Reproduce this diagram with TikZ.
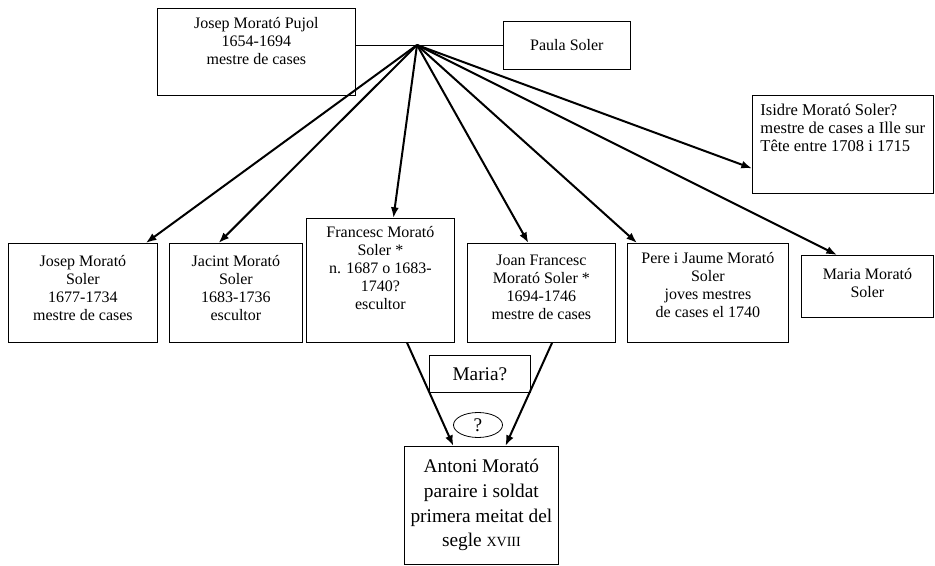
\documentclass[tikz,border=0pt]{standalone}
\usepackage{fontspec}
\setmainfont{Liberation Serif}
\usetikzlibrary{arrows.meta,shapes.geometric}

% box with fixed size and text from the top
\newcommand{\caixa}[4]{\parbox[t][#2][t]{#1}{\centering\vspace*{#3}\strut #4}}

\tikzset{
  persona/.style={draw, line width=0.6pt, anchor=north west, inner sep=0pt, font=\fontsize{12}{13.5}\selectfont},
  gran/.style={font=\fontsize{14.5}{18.6}\selectfont},
  fletxa/.style={-{Latex[length=8pt,width=6pt]}, line width=1.5pt},
  casament/.style={line width=0.6pt}
}

\begin{document}
\begin{tikzpicture}[x=0.75pt,y=-0.75pt]
  \useasboundingbox (0,0) rectangle (935,566);

  % pares
  \node[persona] (jmp) at (157,8) {\caixa{148.5pt}{65.25pt}{5.5pt}{Josep Morató Pujol\\1654-1694\\mestre de cases}};
  \node[persona] (pau) at (503,21) {\caixa{95.25pt}{36pt}{12.3pt}{Paula Soler}};
  \draw[casament] (jmp.east |- pau.west) -- (pau.west);
  \coordinate (jn) at (417,45);

  % fills
  \node[persona, font=\fontsize{12.4}{13.5}\selectfont] (isi) at (752,95) {\parbox[t][73.5pt][t]{135.75pt}{\raggedright\leftskip=6pt\vspace*{5.5pt}\strut Isidre Morató Soler?\\mestre de cases a Ille sur\\Tête entre 1708 i 1715}};
  \node[persona] (jsol) at (8,243) {\caixa{111.75pt}{74.25pt}{7.8pt}{Josep Morató\\Soler\\1677-1734\\mestre de cases}};
  \node[persona] (jac) at (169,243) {\caixa{99.75pt}{74.25pt}{7.8pt}{Jacint Morató\\Soler\\1683-1736\\escultor}};
  \node[persona] (fms) at (306,218) {\caixa{111pt}{93pt}{4.8pt}{Francesc Morató\\Soler *\\n. 1687 o 1683-\\1740?\\escultor}};
  \node[persona] (jfms) at (467,243) {\caixa{111pt}{74.25pt}{7pt}{Joan Francesc\\Morató Soler *\\1694-1746\\mestre de cases}};
  \node[persona] (pere) at (627,243) {\caixa{120.75pt}{74.25pt}{5.5pt}{Pere i Jaume Morató\\Soler\\joves mestres\\de cases el 1740}};
  \node[persona] (mms) at (801,255) {\caixa{99pt}{46.5pt}{8.5pt}{Maria Morató\\Soler}};

  \draw[fletxa] (jn) -- ([xshift=-9pt]jsol.north east);
  \draw[fletxa] (jn) -- ([xshift=-13pt]jac.north);
  \draw[fletxa] (jn) -- ([xshift=9.75pt]fms.north);
  \draw[fletxa] (jn) -- ([xshift=-9.75pt]jfms.north);
  \draw[fletxa] (jn) -- ([xshift=7.5pt]pere.north west);
  \draw[fletxa] (jn) -- ([xshift=27pt]mms.north west);
  \draw[fletxa] (jn) -- ([yshift=-18pt]isi.west);

  % net
  \node[persona, gran, minimum width=75.75pt, minimum height=27.75pt] (maq) at (429,355) {Maria?};
  \node[draw, ellipse, line width=0.6pt, gran, inner sep=0pt, minimum width=36.75pt, minimum height=18.75pt] (inc) at (478,425) {?};
  \node[persona, gran] (ant) at (404,446) {\caixa{115.5pt}{88.5pt}{6.5pt}{Antoni Morató\\paraire i soldat\\primera meitat del\\segle {\fontsize{10.5}{12}\selectfont XVIII}}};

  \draw[fletxa] ([xshift=20pt]fms.south) -- ([xshift=-21pt]ant.north);
  \draw[fletxa] ([xshift=8pt]jfms.south) -- ([xshift=18pt]ant.north);
\end{tikzpicture}
\end{document}
